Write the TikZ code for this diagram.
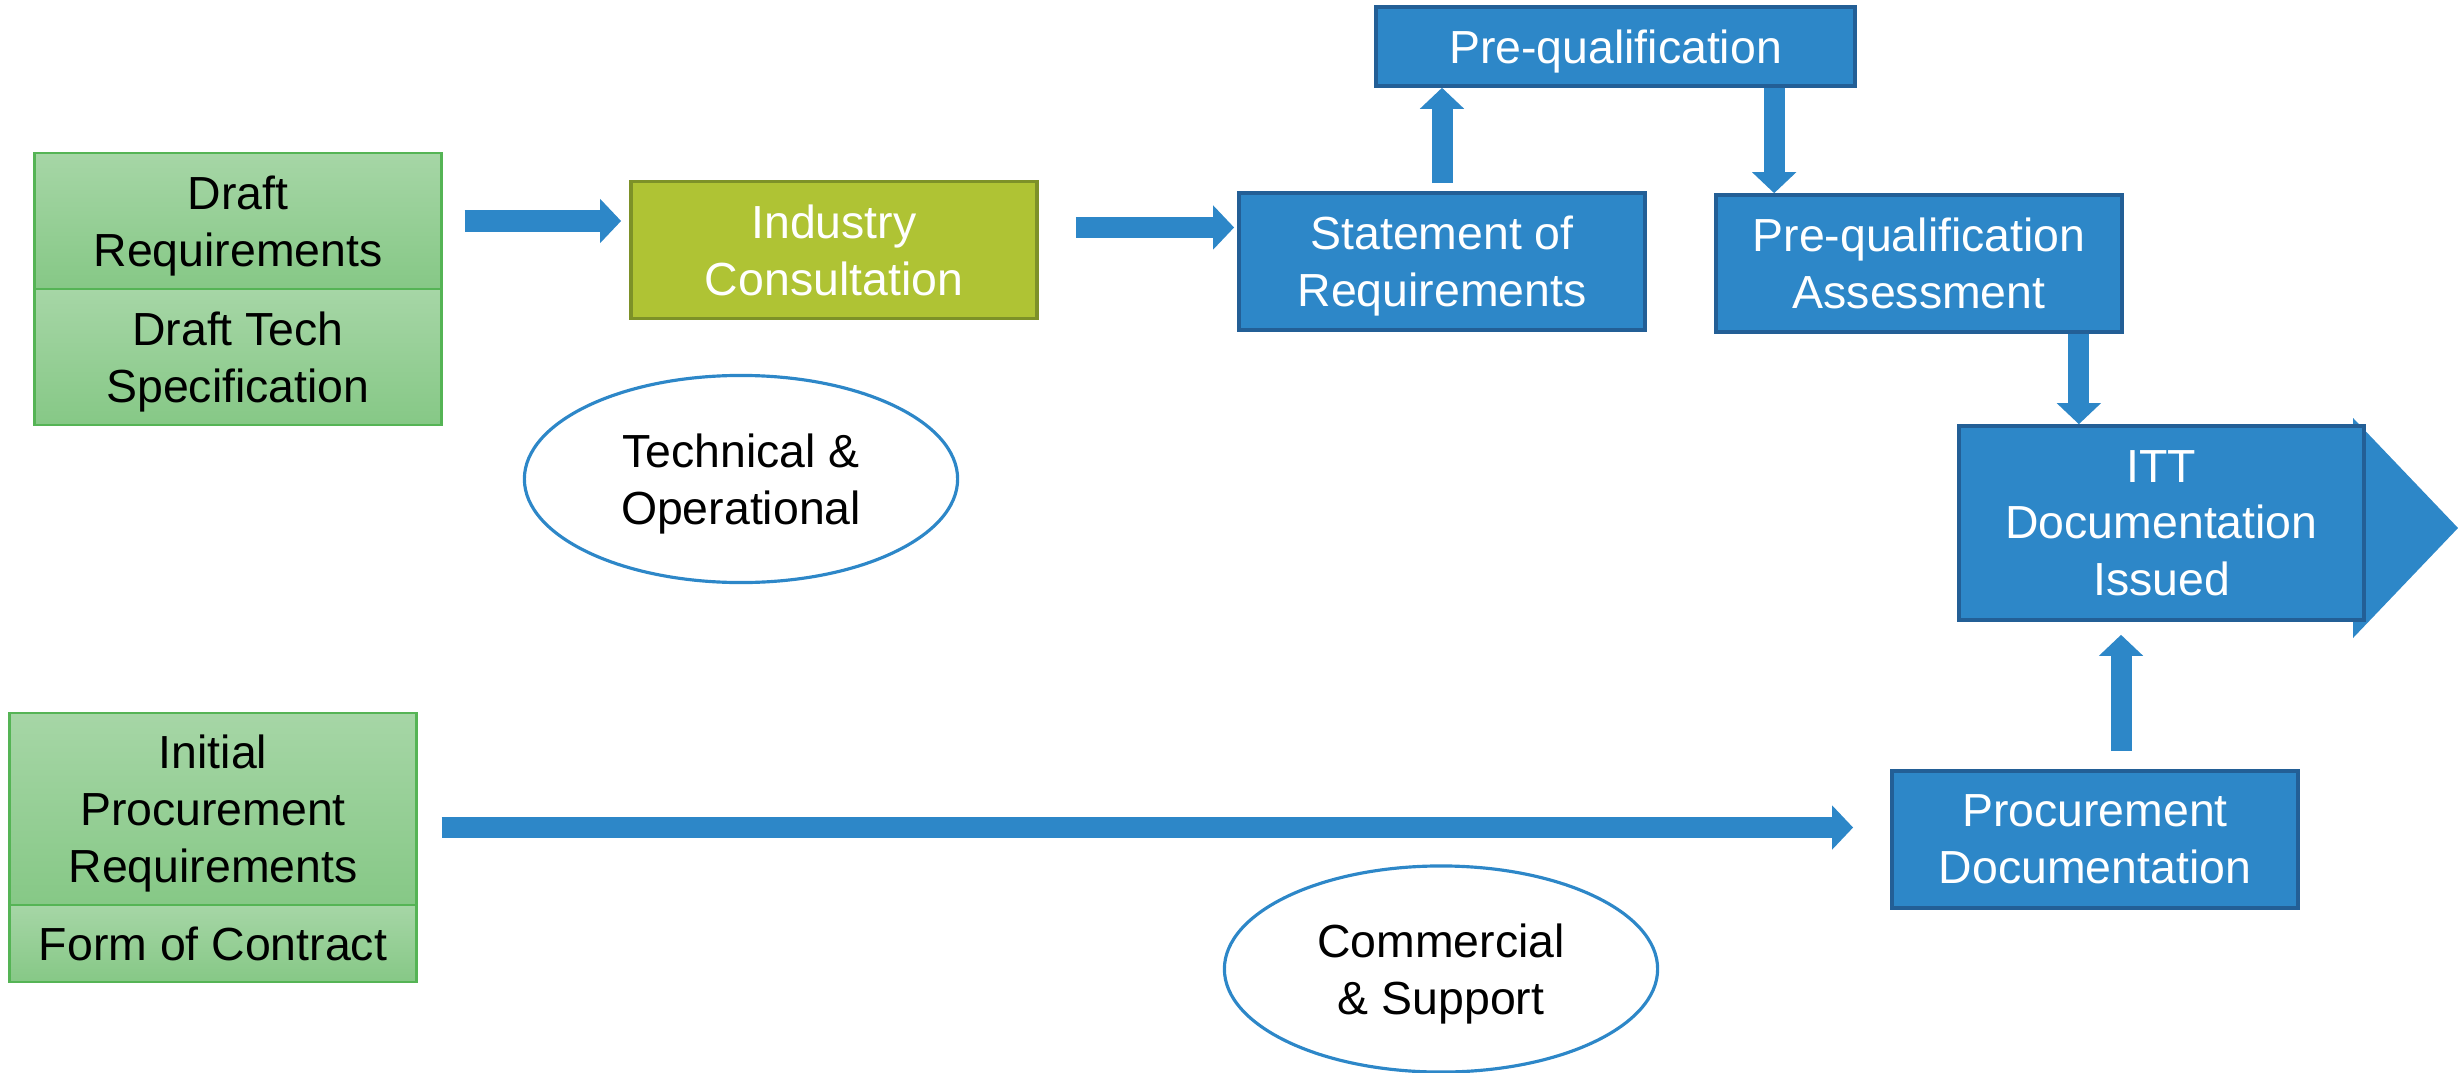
\documentclass[tikz,border=0pt]{standalone}
\usepackage{fontspec}
\setmainfont{Liberation Sans}
\usetikzlibrary{arrows.meta,shapes.geometric,calc}

\definecolor{boxblue}{RGB}{45,135,200}
\definecolor{boxblueedge}{RGB}{35,95,150}
\definecolor{greentop}{RGB}{166,214,166}
\definecolor{greenbot}{RGB}{134,200,134}
\definecolor{greenedge}{RGB}{85,180,85}
\definecolor{consolive}{RGB}{175,195,52}
\definecolor{consoliveedge}{RGB}{125,145,40}

\tikzset{
  % ignore descenders so every label sits the same way in its box
  boxtext/.style={align=center, text depth=0pt},
  bluebox/.style={boxtext, draw=boxblueedge, fill=boxblue, line width=1pt, text=white,
    minimum width=4.06cm, minimum height=1.37cm, inner sep=0pt},
  greenbox/.style={boxtext, draw=greenedge, top color=greentop, bottom color=greenbot, line width=0.8pt,
    minimum width=4.06cm, minimum height=1.36cm, inner sep=0pt},
  oval/.style={boxtext, ellipse, draw=boxblue, line width=0.9pt, fill=white,
    minimum width=4.33cm, minimum height=2.07cm},
  blockarrow/.style={draw=boxblue, line width=0.21cm, -{Triangle[width=0.43cm,length=0.21cm]}},
}

\begin{document}
\begin{tikzpicture}[x=0.01cm, y=-0.01cm, font=\fontsize{13.2}{16.2}\selectfont]
  \useasboundingbox (0,0) rectangle (2458,1073);

  % inputs
  \node[greenbox] (dreq) at (238,221) {Draft\\Requirements};
  \node[greenbox] (dspec) at (238,357) {Draft Tech\\Specification};
  \node[greenbox, minimum height=1.92cm] (ipr) at (213,809) {Initial\\Procurement\\Requirements};
  \node[greenbox, minimum height=0.77cm] (foc) at (213,943.5) {Form of Contract};

  % process steps
  \node[bluebox, draw=consoliveedge, fill=consolive] (indc) at (834,250) {Industry\\Consultation};
  \node[bluebox] (sor) at (1442,261.5) {Statement of\\Requirements};
  \node[bluebox, minimum width=4.79cm, minimum height=0.79cm] (pq) at (1615.5,46.5) {Pre-qualification};
  \node[bluebox] (pqa) at (1919,263.5) {Pre-qualification\\Assessment};
  \node[bluebox] (proc) at (2095,839.5) {Procurement\\Documentation};

  % final step, with its arrow point behind it
  \fill[boxblue] (2353,418) -- (2458,528) -- (2353,638) -- cycle;
  \node[bluebox, minimum width=4.05cm, minimum height=1.94cm] (itt) at (2161.5,523) {ITT\\Documentation\\Issued};

  % streams
  \node[oval] (techop) at (741,479) {Technical \&\\Operational};
  \node[oval, minimum height=2.06cm] (commsup) at (1441,969) {Commercial\\\& Support};

  % flow
  \draw[blockarrow, shorten <=0.22cm, shorten >=0.08cm] (dreq.east) -- (dreq.east -| indc.west);
  \coordinate (c1) at ([yshift=0.225cm]indc.east);
  \draw[blockarrow, shorten <=0.37cm, shorten >=0.03cm] (c1) -- (c1 -| sor.west);
  \draw[blockarrow, shorten <=0.08cm] (sor.north) -- (sor.north |- pq.south);
  \coordinate (c2) at ([xshift=0.6cm]pqa.north west);
  \draw[blockarrow] (c2 |- pq.south) -- (c2);
  \coordinate (c3) at ([xshift=-0.45cm]pqa.south east);
  \draw[blockarrow] (c3) -- (c3 |- itt.north);
  \coordinate (c4) at ([yshift=-0.185cm]ipr.east);
  \draw[blockarrow, shorten <=0.24cm, shorten >=0.37cm] (c4) -- (c4 -| proc.west);
  \coordinate (c5) at ([xshift=0.26cm]proc.north);
  \draw[blockarrow, shorten <=0.18cm, shorten >=0.13cm] (c5) -- (c5 |- itt.south);
\end{tikzpicture}
\end{document}
